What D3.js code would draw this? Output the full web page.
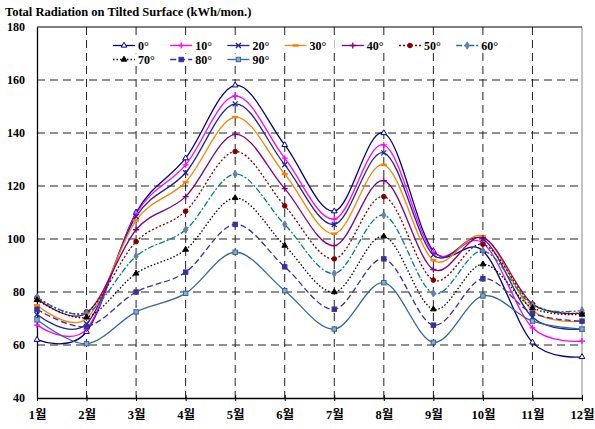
<!DOCTYPE html>
<html><head><meta charset="utf-8">
<script src="https://cdn.jsdelivr.net/npm/d3@7"></script>
<style>
html,body{margin:0;padding:0;background:#fff;}
svg text{font-family:"Liberation Serif","Noto Sans CJK KR",serif;font-weight:bold;}
</style></head>
<body>
<svg id="chart" width="595" height="429"></svg>
<script>
const title = "Total Radiation on Tilted Surface (kWh/mon.)";
const months = ["1월","2월","3월","4월","5월","6월","7월","8월","9월","10월","11월","12월"];
const yTicks = [40,60,80,100,120,140,160,180];
const seriesNames = ["0°","10°","20°","30°","40°","50°","60°","70°","80°","90°"];
const s0  = [62, 65, 110, 130.5, 158, 135.5, 110.5, 140, 95.5, 95.5, 61, 55.5];
const s10 = [67.5, 66, 109.5, 128, 154, 130.5, 107.5, 135.5, 95, 98.5, 66.5, 61.5];
const s20 = [71.5, 68, 108.5, 125, 151, 128, 105.5, 132.5, 94, 100, 70.5, 66];
const s30 = [75, 70, 107, 121.5, 146, 124.5, 102, 128, 92, 101, 73, 69];
const s40 = [77.5, 72, 103.5, 116, 139.5, 119, 97.5, 122, 88.5, 100.5, 75.5, 72];
const s50 = [78, 72.5, 99, 110.5, 133, 112.5, 92.5, 116, 84.5, 98, 75.5, 72];
const s60 = [78, 72, 93.5, 103.5, 124.5, 105.5, 87, 109, 79.5, 95.5, 75, 73];
const s70 = [77, 70.5, 87, 96, 115.5, 97.5, 80, 101, 73.5, 90.5, 74, 71.5];
const s80 = [73.5, 67, 80, 87.5, 105.5, 89.5, 73.5, 92.5, 67.5, 85, 72, 69];
const s90 = [69.5, 60.5, 72.5, 79.5, 95, 80.5, 66, 83.5, 61, 78.5, 69, 66];
const seriesValues = [s0,s10,s20,s30,s40,s50,s60,s70,s80,s90];

const styles = [
  {color:"#000080", dash:null, marker:"tri", mfill:"#fff"},
  {color:"#FF00FF", dash:null, marker:"plus", mfill:"#FF00FF"},
  {color:"#22229a", dash:null, marker:"x", mfill:"#22229a"},
  {color:"#FF8000", dash:null, marker:"dash", mfill:"#FF8000"},
  {color:"#800080", dash:null, marker:"plus", mfill:"#800080"},
  {color:"#800000", dash:"2,2", marker:"circle", mfill:"#800000"},
  {color:"#008080", dash:"6,2,2,2", marker:"diamond", mfill:"#6a7fa8"},
  {color:"#000000", dash:"1.5,2", marker:"tri", mfill:"#000"},
  {color:"#333399", dash:"6,3", marker:"square", mfill:"#333399"},
  {color:"#336699", dash:null, marker:"square", mfill:"#8fa8d0"}
];

const svg = d3.select("#chart");
const pLeft = 37, pRight = 582, pTop = 27, pBottom = 398;
const x = d3.scalePoint().domain(months).range([pLeft, pRight]);
const y = d3.scaleLinear().domain([40,180]).range([pBottom, pTop]);

svg.append("text").attr("x",5).attr("y",16).attr("font-size",12.5).text(title);

// grid
const g = svg.append("g");
g.selectAll("line.hg").data(yTicks.filter(v=>v>40 && v<180)).join("line")
  .attr("x1",pLeft).attr("x2",pRight).attr("y1",d=>y(d)).attr("y2",d=>y(d))
  .attr("stroke","#222").attr("stroke-width",1).attr("stroke-dasharray","8,5");
g.selectAll("line.vg").data(months.slice(1,-1)).join("line")
  .attr("x1",d=>x(d)).attr("x2",d=>x(d)).attr("y1",pTop).attr("y2",pBottom)
  .attr("stroke","#222").attr("stroke-width",1).attr("stroke-dasharray","8,5");

// frame
svg.append("line").attr("x1",pRight).attr("x2",pRight).attr("y1",pTop).attr("y2",pBottom).attr("stroke","#888").attr("stroke-width",1);
svg.append("line").attr("x1",pLeft).attr("x2",pRight).attr("y1",pTop).attr("y2",pTop).attr("stroke","#000").attr("stroke-width",1.2);

// axes
const yAxis = d3.axisLeft(y).tickValues(yTicks).tickSize(0).tickPadding(12);
const ya = svg.append("g").attr("transform",`translate(${pLeft},0)`).call(yAxis);
ya.select(".domain").attr("stroke","#000").attr("stroke-width",1.3);
ya.selectAll("text").attr("font-size",12).attr("font-family","Liberation Serif").attr("font-weight","bold").attr("fill","#000");

const xAxis = d3.axisBottom(x).tickSize(0).tickPadding(12);
const xa = svg.append("g").attr("transform",`translate(0,${pBottom})`).call(xAxis);
xa.select(".domain").attr("stroke","#000").attr("stroke-width",1.3);
xa.selectAll("text").attr("font-size",12.5).attr("font-family","Liberation Serif, Noto Sans CJK KR").attr("font-weight","bold").attr("fill","#000");
xa.selectAll(".tick").append("line").attr("y1",-3).attr("y2",3).attr("stroke","#000");

// lines
const line = d3.line().x((d,i)=>x(months[i])).y(d=>y(d)).curve(d3.curveCardinal.tension(0));

function drawMarker(sel, type, color, fill, cx, cy){
  if(type==="tri"){
    sel.append("path").attr("d", d3.symbol(d3.symbolTriangle, 14)()).attr("transform",`translate(${cx},${cy})`).attr("fill",fill).attr("stroke",color).attr("stroke-width",1);
  } else if(type==="plus"){
    sel.append("path").attr("d",`M${cx-3},${cy}H${cx+3}M${cx},${cy-3}V${cy+3}`).attr("stroke",color).attr("stroke-width",1.3);
  } else if(type==="x"){
    sel.append("path").attr("d",`M${cx-2.5},${cy-2.5}L${cx+2.5},${cy+2.5}M${cx-2.5},${cy+2.5}L${cx+2.5},${cy-2.5}`).attr("stroke",color).attr("stroke-width",1.3);
  } else if(type==="dash"){
    sel.append("path").attr("d",`M${cx-3},${cy}H${cx+3}`).attr("stroke",color).attr("stroke-width",2.5);
  } else if(type==="circle"){
    sel.append("circle").attr("cx",cx).attr("cy",cy).attr("r",2.3).attr("fill",fill).attr("stroke",color);
  } else if(type==="diamond"){
    sel.append("path").attr("d", d3.symbol(d3.symbolDiamond, 16)()).attr("transform",`translate(${cx},${cy})`).attr("fill",fill).attr("stroke",fill);
  } else if(type==="square"){
    sel.append("rect").attr("x",cx-2.2).attr("y",cy-2.2).attr("width",4.4).attr("height",4.4).attr("fill",fill).attr("stroke",color).attr("stroke-width",1);
  }
}

const sg = svg.append("g");
seriesValues.forEach((vals, k)=>{
  const st = styles[k];
  sg.append("path").datum(vals).attr("d",line).attr("fill","none")
    .attr("stroke",st.color).attr("stroke-width",1.3)
    .attr("stroke-dasharray",st.dash);
});
seriesValues.forEach((vals, k)=>{
  const st = styles[k];
  const mg = sg.append("g");
  vals.forEach((v,i)=> drawMarker(mg, st.marker, st.color, st.mfill, x(months[i]), y(v)));
});

// legend
const lg = svg.append("g");
seriesNames.forEach((name,k)=>{
  const row = k<7 ? 0 : 1;
  const col = k<7 ? k : k-7;
  const lx = 113 + col*57.2;
  const ly = row===0 ? 45.5 : 59.5;
  const st = styles[k];
  lg.append("rect").attr("x",lx-4).attr("y",ly-6).attr("width",54).attr("height",12).attr("fill","#fff");
  lg.append("line").attr("x1",lx).attr("x2",lx+22).attr("y1",ly).attr("y2",ly)
    .attr("stroke",st.color).attr("stroke-width",1.3).attr("stroke-dasharray",st.dash);
  drawMarker(lg, st.marker, st.color, st.mfill, lx+11, ly);
  lg.append("text").attr("x",lx+25).attr("y",ly+4).attr("font-size",12).text(name);
});
</script>
</body></html>
